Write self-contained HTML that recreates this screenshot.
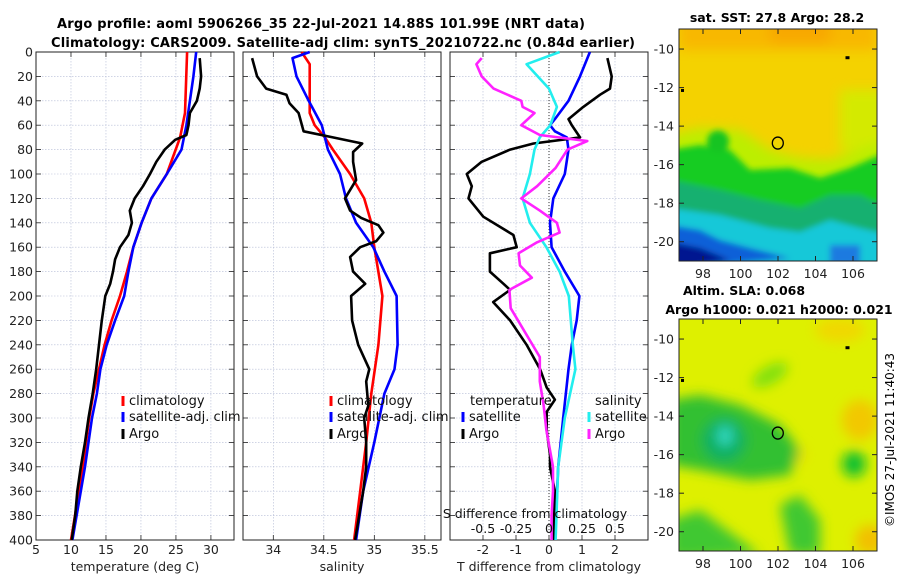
<!DOCTYPE html>
<html><head><meta charset="utf-8">
<style>
html,body{margin:0;padding:0;background:#fff;}
svg{display:block;font-family:"DejaVu Sans","Liberation Sans",sans-serif;}
</style></head>
<body>
<svg id="fig" width="900" height="580" viewBox="0 0 900 580" xmlns="http://www.w3.org/2000/svg">
<defs>
<filter id="blur6" x="-20%" y="-20%" width="140%" height="140%"><feGaussianBlur stdDeviation="6"/></filter>
<filter id="blur3" x="-20%" y="-20%" width="140%" height="140%"><feGaussianBlur stdDeviation="3"/></filter>
<clipPath id="clipTop"><rect x="679" y="29" width="198" height="232"/></clipPath>
<clipPath id="clipBot"><rect x="679" y="319" width="198" height="232"/></clipPath>
</defs>
<text x="321" y="28" text-anchor="middle" font-size="13" font-weight="bold" textLength="528">Argo profile: aoml 5906266_35 22-Jul-2021 14.88S 101.99E (NRT data)</text>
<text x="343" y="47" text-anchor="middle" font-size="13" font-weight="bold" textLength="584">Climatology: CARS2009. Satellite-adj clim: synTS_20210722.nc (0.84d earlier)</text>
<g id="plots"></g>
<g id="maps"></g>
<text transform="translate(894,440) rotate(-90)" text-anchor="middle" font-size="12">©IMOS 27-Jul-2021 11:40:43</text>
</svg>
<script>
// ---- data (depth in m) ----
const climTDepth=[0,50,70,100,120,140,160,180,200,220,240,260,280,300,340,400];
const climT=[26.6,26.3,25.6,23.7,21.5,20.1,18.9,18.0,17.0,15.8,14.8,14.0,13.2,12.6,11.7,10.0];
const satTDepth=[0,20,40,60,80,100,120,140,160,180,200,220,240,260,280,300,340,400];
const satT=[27.9,27.5,27.0,26.5,25.8,23.7,21.5,20.1,18.9,18.2,17.6,16.3,15.1,14.2,13.7,13.0,12.0,10.2];
const argoTDepth=[5,20,30,40,50,60,68,72,80,90,100,110,120,130,140,150,160,170,180,190,200,220,240,260,280,300,320,340,360,380,400];
const argoT=[28.4,28.6,28.4,28.0,27.0,26.8,26.5,24.9,23.4,22.2,21.3,20.3,19.1,18.4,18.7,18.2,17.0,16.3,16.0,15.6,14.9,14.4,14.0,13.6,13.1,12.5,12.0,11.4,10.9,10.6,10.1];

const climSDepth=[0,10,50,60,70,80,100,120,140,160,200,240,280,320,360,400];
const climS=[34.28,34.36,34.36,34.41,34.51,34.59,34.76,34.90,34.97,35.00,35.08,35.04,34.97,34.92,34.86,34.80];
const satSDepth=[0,5,20,40,60,80,100,120,140,160,180,200,240,260,280,320,360,400];
const satS=[34.36,34.19,34.23,34.35,34.48,34.54,34.66,34.72,34.82,34.99,35.10,35.22,35.23,35.20,35.10,35.00,34.89,34.82];
const argoSDepth=[5,20,30,35,42,50,65,70,75,82,90,105,120,130,136,142,148,155,160,168,180,190,200,220,240,260,270,290,300,320,340,360,400];
const argoS=[33.79,33.84,33.93,34.13,34.16,34.25,34.30,34.59,34.88,34.79,34.79,34.82,34.71,34.76,34.87,35.04,35.09,35.02,34.86,34.76,34.79,34.91,34.77,34.78,34.84,34.95,34.92,34.94,34.90,34.92,34.92,34.89,34.81];

const satTdDepth=[0,20,40,55,60,65,70,80,100,120,140,160,180,200,220,240,260,300,340,400];
const satTd=[1.24,0.94,0.59,0.18,0.03,0.18,0.54,0.59,0.48,0.13,0.03,0.08,0.48,0.92,0.84,0.69,0.59,0.43,0.28,0.18];
const argoTdDepth=[5,20,30,35,45,55,60,70,75,80,90,100,110,120,135,150,160,165,180,190,195,205,220,240,260,275,285,295,310,330,340,360,400];
const argoTd=[1.77,1.90,1.85,1.55,1.04,0.59,0.69,0.94,-0.47,-1.18,-2.04,-2.49,-2.34,-2.44,-1.99,-1.08,-0.98,-1.79,-1.79,-1.38,-1.18,-1.69,-1.18,-0.68,-0.27,-0.07,0.18,-0.07,-0.07,0.03,0.03,0.18,0.13];
const satSdDepth=[0,10,30,45,60,70,80,100,120,140,160,180,200,240,260,300,340,400];
const satSd=[0.08,-0.17,0.0,0.06,0.01,-0.07,-0.11,-0.145,-0.2,-0.145,-0.02,0.08,0.15,0.18,0.2,0.12,0.07,0.05];
const argoSdDepth=[5,10,20,30,40,45,50,60,68,73,80,95,110,120,130,140,148,156,165,175,185,195,210,230,250,270,290,310,340,360,380,400];
const argoSd=[-0.51,-0.55,-0.51,-0.42,-0.21,-0.20,-0.11,-0.21,-0.07,0.29,0.14,0.05,-0.09,-0.21,-0.07,0.06,0.08,-0.09,-0.23,-0.22,-0.13,-0.30,-0.29,-0.18,-0.07,-0.07,-0.04,-0.02,0.03,0.03,0.02,0.02];

const depthTicks=[0,20,40,60,80,100,120,140,160,180,200,220,240,260,280,300,320,340,360,380,400];
const tTicks=[5,10,15,20,25,30];
const sTicks=[34,34.5,35,35.5];
const tdTicks=[-2,-1,0,1,2];
const sdTicks=[-0.5,-0.25,0,0.25,0.5];
const sdTickLabels=["-0.5","-0.25","0","0.25","0.5"];

const NS='http://www.w3.org/2000/svg';
function mk(tag,attrs,parent){const e=document.createElementNS(NS,tag);for(const k in attrs)e.setAttribute(k,attrs[k]);(parent||document.getElementById('plots')).appendChild(e);return e;}
const Y0=52,Y1=540;
function yd(d){return Y0+(d/400)*(Y1-Y0);}

const panels=[
 {x0:36,x1:234,min:5,max:33.3,ticks:tTicks,labels:tTicks.map(String),title:"temperature (deg C)",name:"temperature-panel"},
 {x0:243,x1:441,min:33.70,max:35.66,ticks:sTicks,labels:sTicks.map(String),title:"salinity",name:"salinity-panel"},
 {x0:450,x1:648,min:-3,max:3,ticks:tdTicks,labels:tdTicks.map(String),title:"T difference from climatology",name:"difference-panel"}
];
panels.forEach((p,i)=>{
 p.fx=v=>p.x0+(v-p.min)/(p.max-p.min)*(p.x1-p.x0);
 const g=mk('g',{});
 
 
 mk('rect',{x:p.x0,y:Y0,width:p.x1-p.x0,height:Y1-Y0,fill:'#fff'},g);
 depthTicks.forEach(d=>{
  const l=mk('line',{x1:p.x0,x2:p.x1,y1:yd(d),y2:yd(d),stroke:'#b4bcd6','stroke-width':0.6,'stroke-dasharray':'1.5,1.5'},g);
  
  
  mk('line',{x1:p.x0,x2:p.x0+5,y1:yd(d),y2:yd(d),stroke:'#222','stroke-width':0.8},g);
  mk('line',{x1:p.x1,x2:p.x1-5,y1:yd(d),y2:yd(d),stroke:'#222','stroke-width':0.8},g);
  if(i===0){const t=mk('text',{x:p.x0-3,y:yd(d)+4.5,'text-anchor':'end','font-size':12.5,fill:'#222'},g);t.textContent=d;
   
   }
 });
 p.ticks.forEach((v,k)=>{
  const x=p.fx(v);
  const l=mk('line',{x1:x,x2:x,y1:Y0,y2:Y1,stroke:'#b4bcd6','stroke-width':0.6,'stroke-dasharray':'1.5,1.5'},g);
  
  
  mk('line',{x1:x,x2:x,y1:Y1,y2:Y1-5,stroke:'#222','stroke-width':0.8},g);
  mk('line',{x1:x,x2:x,y1:Y0,y2:Y0+5,stroke:'#222','stroke-width':0.8},g);
  const t=mk('text',{x:x,y:554,'text-anchor':'middle','font-size':12.5,fill:'#222'},g);t.textContent=p.labels[k];
  
  
 });
 const tt=mk('text',{x:(p.x0+p.x1)/2,y:571,'text-anchor':'middle','font-size':12.5,fill:'#222'},g);tt.textContent=p.title;
 
 
 mk('rect',{x:p.x0,y:Y0,width:p.x1-p.x0,height:Y1-Y0,fill:'none',stroke:'#222','stroke-width':1},g);
});
const zl=mk('line',{x1:panels[2].fx(0),x2:panels[2].fx(0),y1:Y0,y2:Y1,stroke:'#333','stroke-width':1,'stroke-dasharray':'1,2'});



function series(p,vals,depths,color,name,scale){
 const pts=vals.map((v,k)=>p.fx(v*(scale||1)).toFixed(1)+','+yd(depths[k]).toFixed(1)).join(' ');
 const e=mk('polyline',{points:pts,fill:'none',stroke:color,'stroke-width':2.6,'stroke-linejoin':'round'});
 
 
}
series(panels[0],climT,climTDepth,'#ff0000','climatology-temperature-line');
series(panels[0],satT,satTDepth,'#0000ff','satellite-temperature-line');
series(panels[0],argoT,argoTDepth,'#000','argo-temperature-line');
series(panels[1],climS,climSDepth,'#ff0000','climatology-salinity-line');
series(panels[1],satS,satSDepth,'#0000ff','satellite-salinity-line');
series(panels[1],argoS,argoSDepth,'#000','argo-salinity-line');
series(panels[2],satTd,satTdDepth,'#0000ff','satellite-t-diff-line');
series(panels[2],argoTd,argoTdDepth,'#000','argo-t-diff-line');
series(panels[2],satSd,satSdDepth,'#22eeee','satellite-s-diff-line',4);
series(panels[2],argoSd,argoSdDepth,'#ff22ff','argo-s-diff-line',4);

function legend(x,y,color,label,name){
 const g=mk('g',{});
 
 
 if(color) mk('line',{x1:x,x2:x,y1:y-9,y2:y+1,stroke:color,'stroke-width':3},g);
 const t=mk('text',{x:x+6,y:y,'font-size':13,fill:'#111'},g);t.textContent=label;
}
legend(123,405,'#ff0000','climatology','legend-climatology');
legend(123,421,'#0000ff','satellite-adj. clim','legend-satellite-adj');
legend(123,438,'#000','Argo','legend-argo');
legend(331,405,'#ff0000','climatology','legend-climatology-2');
legend(331,421,'#0000ff','satellite-adj. clim','legend-satellite-adj-2');
legend(331,438,'#000','Argo','legend-argo-2');
legend(464,405,null,'temperature','legend-temperature-header');
legend(463,421,'#0000ff','satellite','legend-t-satellite');
legend(463,438,'#000','Argo','legend-t-argo');
legend(589,405,null,'salinity','legend-salinity-header');
legend(589,421,'#22eeee','satellite','legend-s-satellite');
legend(589,438,'#ff22ff','Argo','legend-s-argo');
const sl=mk('text',{x:535,y:518,'text-anchor':'middle','font-size':12.5,fill:'#111'});sl.textContent='S difference from climatology';


sdTicks.forEach((v,k)=>{
 const t=mk('text',{x:panels[2].fx(v*4),y:533,'text-anchor':'middle','font-size':12.5,fill:'#111'});t.textContent=sdTickLabels[k];
 
 
});

// ---- maps ----
const lonTicks=[98,100,102,104,106];
const latTicks=[-10,-12,-14,-16,-18,-20];
const M=document.getElementById('maps');
function mapAxes(yTop){
 const fx=lon=>679+(lon-96.72)/(107.28-96.72)*198;
 const fy=lat=>yTop+(-8.96-lat)/(21.0-8.96)*232;
 return {fx,fy,yTop};
}
function buildMap(yTop,clip,shapes,name){
 const A=mapAxes(yTop);
 const g=mk('g',{},M);
 
 
 const inner=mk('g',{'clip-path':'url(#'+clip+')'},g);
 shapes(inner,A);
 latTicks.forEach(l=>{
  const y=A.fy(l);
  mk('line',{x1:877,x2:872,y1:y,y2:y,stroke:'#222'},g);
  mk('line',{x1:679,x2:684,y1:y,y2:y,stroke:'#222'},g);
  const t=mk('text',{x:674,y:y+4.5,'text-anchor':'end','font-size':12.5,fill:'#222'},g);t.textContent=l;
  
  
 });
 lonTicks.forEach(l=>{
  const x=A.fx(l);
  mk('line',{x1:x,x2:x,y1:yTop+232,y2:yTop+227,stroke:'#222'},g);
  mk('line',{x1:x,x2:x,y1:yTop,y2:yTop+5,stroke:'#222'},g);
  const t=mk('text',{x:x,y:yTop+232+17,'text-anchor':'middle','font-size':12.5,fill:'#222'},g);t.textContent=l;
  
  
 });
 mk('rect',{x:679,y:yTop,width:198,height:232,fill:'none',stroke:'#222','stroke-width':1},g);
 const c=mk('ellipse',{cx:A.fx(101.99),cy:A.fy(-14.88),rx:5.5,ry:6,fill:'none',stroke:'#000','stroke-width':1.3},g);
 
 
 mk('rect',{x:A.fx(105.6),y:A.fy(-10.45)-1.5,width:4,height:3,fill:'#000'},g);
 mk('rect',{x:681,y:A.fy(-12.15)-1.5,width:3,height:3,fill:'#000'},g);
}
buildMap(29,'clipTop',(g,A)=>{
 mk('rect',{x:679,y:29,width:198,height:232,fill:'#f4d200'},g);
 const b=mk('g',{filter:'url(#blur6)'},g);
 mk('rect',{x:679,y:15,width:198,height:35,fill:'#f8b800'},b);
 mk('rect',{x:770,y:15,width:60,height:28,fill:'#f8a800'},b);
 mk('rect',{x:840,y:90,width:50,height:60,fill:'#d4ea00'},b);
 mk('polygon',{points:'670,135 700,128 740,130 770,150 800,158 830,160 870,145 890,140 890,270 670,270',fill:'#bcee00'},b);
 const b2=mk('g',{filter:'url(#blur3)'},g);
 mk('polygon',{points:'670,150 700,145 730,150 750,170 790,168 820,178 850,168 880,155 890,155 890,270 670,270',fill:'#18cc20'},b2);
 mk('circle',{cx:A.fx(98.8),cy:A.fy(-14.8),r:11,fill:'#14c420'},b2);
 mk('polygon',{points:'670,180 720,190 760,200 800,208 830,195 860,195 890,210 890,270 670,270',fill:'#14b070'},b2);
 mk('polygon',{points:'670,208 720,215 770,228 800,232 830,220 860,228 890,235 890,270 670,270',fill:'#14c8d8'},b2);
 mk('polygon',{points:'670,225 700,230 720,240 750,248 790,258 670,270',fill:'#1060d8'},b2);
 mk('polygon',{points:'670,242 700,248 730,260 670,270',fill:'#001890'},b2);
 mk('rect',{x:830,y:245,width:30,height:20,fill:'#1a7ae0'},b2);
},'sst-map');
buildMap(319,'clipBot',(g,A)=>{
 mk('rect',{x:679,y:319,width:198,height:232,fill:'#def000'},g);
 const b=mk('g',{filter:'url(#blur6)'},g);
 mk('ellipse',{cx:840,cy:330,rx:25,ry:12,fill:'#f0d800'},b);
 mk('ellipse',{cx:860,cy:420,rx:18,ry:20,fill:'#f2c800'},b);
 mk('ellipse',{cx:870,cy:540,rx:15,ry:15,fill:'#f2c000'},b);
 mk('ellipse',{cx:790,cy:455,rx:16,ry:10,fill:'#ecdc00'},b);
 mk('polygon',{points:'670,400 700,395 740,405 780,425 800,450 790,475 750,480 700,470 670,465',fill:'#30c030'},b);
 mk('ellipse',{cx:724,cy:440,rx:22,ry:22,fill:'#10b060'},b);
 mk('ellipse',{cx:725,cy:436,rx:8,ry:10,fill:'#30d8c0'},b);
 mk('ellipse',{cx:770,cy:375,rx:20,ry:9,fill:'#80e010',transform:'rotate(-30 770 375)'},b);
 mk('ellipse',{cx:854,cy:464,rx:12,ry:13,fill:'#10c030'},b);
 mk('polygon',{points:'670,520 700,510 720,525 740,540 760,555 670,560',fill:'#40c830'},b);
 mk('polygon',{points:'780,505 800,495 820,520 820,555 790,555',fill:'#40c830'},b);
},'sla-map');
[['sat. SST: 27.8 Argo: 28.2',777,22,'sst-map-title'],['Altim. SLA: 0.068',744,295,'sla-map-title'],['Argo h1000: 0.021 h2000: 0.021',779,314,'argo-height-title']].forEach(a=>{
 const t=mk('text',{x:a[1],y:a[2],'text-anchor':'middle','font-size':12.5,'font-weight':'bold',fill:'#000'},M);t.textContent=a[0];
 
 
});
</script>
</body></html>
